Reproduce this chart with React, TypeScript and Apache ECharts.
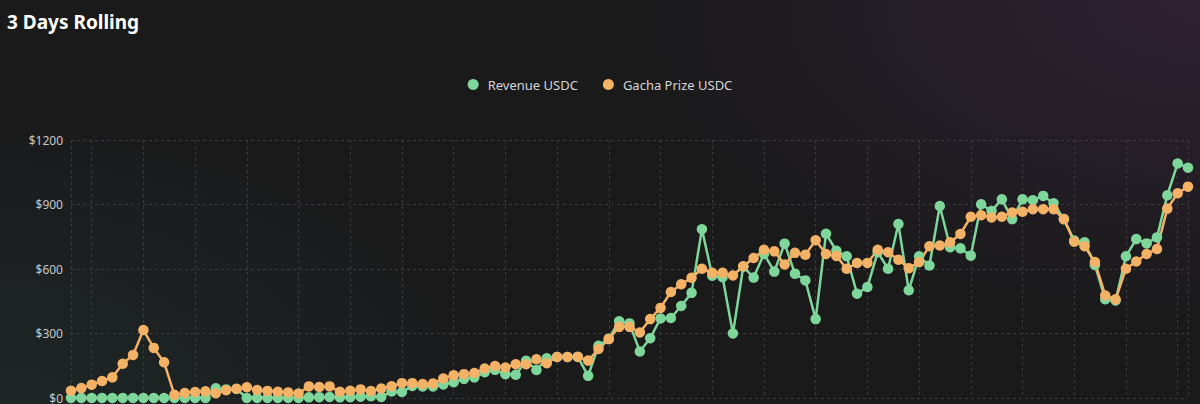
import React, { useEffect, useRef } from "react";
import * as echarts from "echarts";

const title = "3 Days Rolling";
const seriesNames = ["Revenue USDC", "Gacha Prize USDC"];
const yTicks = [0, 300, 600, 900, 1200];

const revenue = [
  0, 0, 0, 0, 0, 0, 0, 0, 0, 0,
  0, 0, 0, 0, 45, 40, 42, 0, 0, 0,
  0, 0, 0, 3, 4, 5, 3, 4, 6, 8,
  5, 30, 28, 56, 54, 54, 63, 74, 89, 96,
  120, 131, 111, 108, 173, 130, 185, 191, 191, 191,
  103, 243, 276, 357, 347, 216, 278, 370, 372, 428,
  489, 785, 569, 562, 300, 611, 560, 670, 588, 718,
  578, 547, 367, 764, 685, 659, 485, 516, 678, 601,
  809, 501, 659, 616, 893, 701, 696, 662, 901, 870,
  924, 832, 924, 920, 940, 906, 832, 732, 724, 619,
  459, 454, 659, 739, 719, 747, 943, 1091, 1071,
];

const gachaPrize = [
  34, 46, 62, 79, 96, 159, 200, 316, 233, 166,
  15, 23, 28, 31, 22, 36, 43, 50, 37, 33,
  29, 26, 21, 54, 51, 54, 29, 34, 40, 32,
  44, 55, 69, 69, 65, 67, 91, 106, 111, 116,
  137, 149, 142, 157, 157, 180, 162, 191, 191, 192,
  174, 228, 274, 331, 331, 305, 367, 419, 493, 529,
  559, 601, 582, 582, 570, 613, 651, 689, 682, 621,
  675, 666, 734, 670, 661, 601, 628, 628, 689, 678,
  643, 604, 632, 706, 709, 724, 763, 843, 850, 840,
  843, 863, 866, 878, 878, 878, 832, 727, 706, 632,
  477, 459, 601, 635, 670, 693, 881, 952, 983,
];

const days = revenue.map((_, i) => `Day ${i + 1}`);

const GREEN = "#7fd69b";
const ORANGE = "#f3b266";
const FONT = "'Noto Sans', 'Open Sans', sans-serif";

export default function App() {
  const ref = useRef<HTMLDivElement>(null);

  useEffect(() => {
    document.body.style.margin = "0";
    if (!ref.current) return;
    const chart = echarts.init(ref.current, undefined, { renderer: "svg" });
    const last = days.length - 1;
    chart.setOption({
      animation: false,
      backgroundColor: "transparent",
      title: {
        text: title,
        left: 2,
        top: 7,
        textStyle: { color: "#ffffff", fontSize: 19, fontWeight: "bold", fontFamily: FONT },
      },
      legend: {
        top: 73,
        left: "center",
        icon: "circle",
        itemWidth: 11,
        itemHeight: 11,
        itemGap: 25,
        data: seriesNames,
        textStyle: { color: "#d6d6d6", fontSize: 13, fontFamily: FONT, padding: [0, 0, 0, 4] },
      },
      grid: { left: 71, right: 12, top: 140, bottom: 4, containLabel: false },
      xAxis: {
        type: "category",
        data: days,
        boundaryGap: false,
        axisLine: { show: false },
        axisTick: { show: false },
        axisLabel: { show: false },
        splitLine: {
          show: true,
          interval: (index: number) => index === 0 || index === last || (index - 2) % 5 === 0,
          lineStyle: { color: "#3a3a3c", type: [3, 3], width: 1 },
        },
      },
      yAxis: {
        type: "value",
        min: 0,
        max: 1200,
        interval: 300,
        axisLine: { show: false },
        axisTick: { show: false },
        axisLabel: {
          color: "#c8c8c8",
          fontSize: 12,
          fontFamily: FONT,
          margin: 8,
          padding: [3, 0, 0, 0],
          formatter: (v: number) => (yTicks.includes(v) ? `$${v}` : ""),
        },
        splitLine: { show: true, lineStyle: { color: "#3a3a3c", type: [3, 3], width: 1 } },
      },
      series: [
        {
          name: seriesNames[0],
          type: "line",
          data: revenue,
          symbol: "circle",
          symbolSize: 10.5,
          showAllSymbol: true,
          itemStyle: { color: GREEN },
          lineStyle: { color: GREEN, width: 2.5 },
        },
        {
          name: seriesNames[1],
          type: "line",
          data: gachaPrize,
          symbol: "circle",
          symbolSize: 10.5,
          showAllSymbol: true,
          itemStyle: { color: ORANGE },
          lineStyle: { color: ORANGE, width: 2.5 },
        },
      ],
    });
    return () => chart.dispose();
  }, []);

  return (
    <div
      style={{
        width: 1200,
        height: 404,
        background:
          "radial-gradient(ellipse 750px 420px at 100% 0%, rgba(72,42,78,0.45), rgba(72,42,78,0) 75%), radial-gradient(ellipse 650px 380px at 0% 100%, rgba(40,62,60,0.35), rgba(40,62,60,0) 75%), #1a1a1b",
      }}
    >
      <div ref={ref} style={{ width: 1200, height: 404 }} />
    </div>
  );
}
